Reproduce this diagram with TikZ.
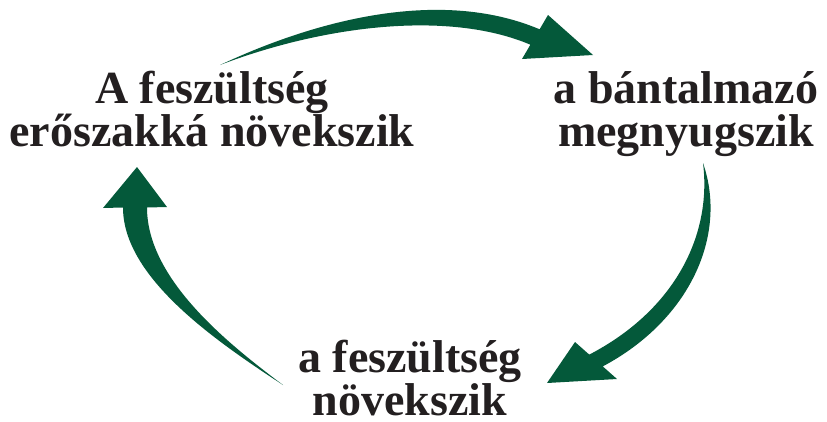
\documentclass[tikz,border=0pt]{standalone}
\usepackage{fontspec}
\setmainfont{Liberation Serif}
\definecolor{arrowgreen}{RGB}{4,89,58}
\definecolor{textblack}{RGB}{35,31,32}
\begin{document}
\begin{tikzpicture}[x=1pt,y=-1pt,
  lbl/.style={align=center, anchor=base, inner sep=0pt,
    font=\fontsize{46}{43}\bfseries\selectfont, text=textblack},
  arrowfill/.style={fill=arrowgreen, draw=none}]
\useasboundingbox (0,0) rectangle (827,421);
% labels (anchor base = baseline of last line)
\node[lbl] (escalate) at (212,146) {A feszültség\\erőszakká növekszik};
\node[lbl] (calm) at (686,146) {a bántalmazó\\megnyugszik};
\node[lbl] (build) at (410,415) {a feszültség\\növekszik};
% top arrow
\fill[arrowfill] (220,65) .. controls (329,14) and (447.6,-9.7) .. (539.6,29.3)
  -- (548,15) -- (593,55) -- (522,59) -- (530.4,44.7)
  .. controls (447.6,9.6) and (322,26) .. (220,65) -- cycle;
% right arrow
\fill[arrowfill] (703,163) .. controls (728,235) and (690,320) .. (602.75,366.4)
  -- (617,379) -- (547,383) -- (575,342) -- (589.25,354.6)
  .. controls (675,310) and (712,235) .. (703,163) -- cycle;
% left arrow
\fill[arrowfill] (283,385) .. controls (215.8,341) and (123,277.5) .. (123,207.5)
  -- (103,208) -- (137,167) -- (167,207) -- (147,207.5)
  .. controls (147,280) and (230,345) .. (283,385) -- cycle;
\end{tikzpicture}
\end{document}
